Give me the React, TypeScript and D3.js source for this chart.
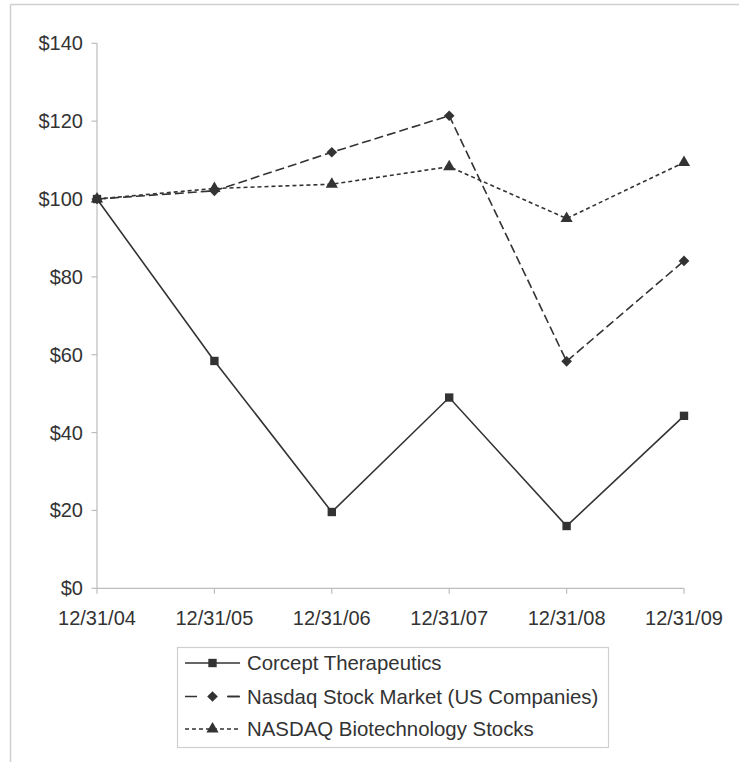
import React from "react";
import * as d3 from "d3";

const categories = ["12/31/04", "12/31/05", "12/31/06", "12/31/07", "12/31/08", "12/31/09"];
const corcept = [100, 58.4, 19.6, 49.0, 16.0, 44.3];
const nasdaq = [100, 102.1, 112.0, 121.4, 58.3, 84.1];
const biotech = [100, 102.7, 103.8, 108.3, 95.0, 109.4];
const yTicks = [0, 20, 40, 60, 80, 100, 120, 140];
const seriesNames = ["Corcept Therapeutics", "Nasdaq Stock Market (US Companies)", "NASDAQ Biotechnology Stocks"];

const W = 739;
const H = 762;
const FONT = "'Liberation Sans', Arial, Helvetica, sans-serif";
const TEXT = "#333";
const LINE = "#333";
const AXIS = "#bdbdbd";

const x = d3.scalePoint<string>().domain(categories).range([97, 684]);
const y = d3.scaleLinear().domain([0, 140]).range([588.3, 43.3]);

type Series = { name: string; values: number[]; dash: string; marker: "square" | "diamond" | "triangle" };
const series: Series[] = [
  { name: seriesNames[0], values: corcept, dash: "none", marker: "square" },
  { name: seriesNames[1], values: nasdaq, dash: "9,4", marker: "diamond" },
  { name: seriesNames[2], values: biotech, dash: "4,3", marker: "triangle" },
];

const symbolFor = (m: Series["marker"]) => {
  if (m === "square") return d3.symbol().type(d3.symbolSquare).size(70)();
  if (m === "diamond") return d3.symbol().type(d3.symbolDiamond2).size(72)();
  return d3.symbol().type(d3.symbolTriangle).size(64)();
};

export default function App() {
  const line = d3
    .line<number>()
    .x((_, i) => x(categories[i]) as number)
    .y((v) => y(v));

  const legendX = 177;
  const legendY = 647;
  const legendW = 431;
  const legendH = 100;
  const rowY = [663, 696.5, 729];

  return (
    <svg
      width={W}
      height={H}
      style={{ position: "absolute", left: 0, top: 0 }}
      fontFamily={FONT}
    >
      <rect x={0} y={0} width={W} height={H} fill="#fff" />
      {/* outer frame */}
      <line x1={10.5} y1={4.5} x2={W} y2={4.5} stroke="#cfcfcf" strokeWidth={1.5} />
      <line x1={10.5} y1={4.5} x2={10.5} y2={H} stroke="#cfcfcf" strokeWidth={1.5} />

      {/* y axis */}
      <line x1={97} y1={y(140)} x2={97} y2={y(0)} stroke={AXIS} strokeWidth={1.2} />
      {yTicks.map((t) => (
        <g key={t}>
          <line x1={91.5} x2={97} y1={y(t)} y2={y(t)} stroke={AXIS} strokeWidth={1.2} />
          <text x={83} y={y(t)} dy="0.35em" textAnchor="end" fontSize={20} fill={TEXT}>
            {"$" + t}
          </text>
        </g>
      ))}

      {/* x axis */}
      <line x1={97} y1={y(0)} x2={684} y2={y(0)} stroke={AXIS} strokeWidth={1.2} />
      {categories.map((c) => (
        <g key={c}>
          <line x1={x(c)} x2={x(c)} y1={y(0)} y2={y(0) + 5.5} stroke={AXIS} strokeWidth={1.2} />
          <text x={x(c)} y={625} textAnchor="middle" fontSize={20} fill={TEXT}>
            {c}
          </text>
        </g>
      ))}

      {/* series */}
      {series.map((s) => (
        <g key={s.name}>
          <path
            d={line(s.values) || ""}
            fill="none"
            stroke={LINE}
            strokeWidth={1.6}
            strokeDasharray={s.dash}
          />
          {s.values.map((v, i) => (
            <path
              key={i}
              d={symbolFor(s.marker) || ""}
              transform={`translate(${x(categories[i])},${y(v)})`}
              fill={LINE}
            />
          ))}
        </g>
      ))}

      {/* legend */}
      <rect
        x={legendX + 0.5}
        y={legendY + 0.5}
        width={legendW}
        height={legendH}
        fill="#fff"
        stroke="#cfcfcf"
        strokeWidth={1.2}
      />
      {series.map((s, i) => (
        <g key={s.name}>
          <line
            x1={185}
            x2={240}
            y1={rowY[i]}
            y2={rowY[i]}
            stroke={LINE}
            strokeWidth={1.6}
            strokeDasharray={s.dash === "none" ? "none" : s.dash === "9,4" ? "12,30" : "4,3"}
            strokeDashoffset={0}
          />
          {s.dash === "9,4" && (
            <line x1={228} x2={240} y1={rowY[i]} y2={rowY[i]} stroke={LINE} strokeWidth={1.6} />
          )}
          <path d={symbolFor(s.marker) || ""} transform={`translate(212.5,${rowY[i]})`} fill={LINE} />
          <text x={247} y={rowY[i]} dy="0.35em" fontSize={20.4} fill={TEXT}>
            {s.name}
          </text>
        </g>
      ))}
    </svg>
  );
}
